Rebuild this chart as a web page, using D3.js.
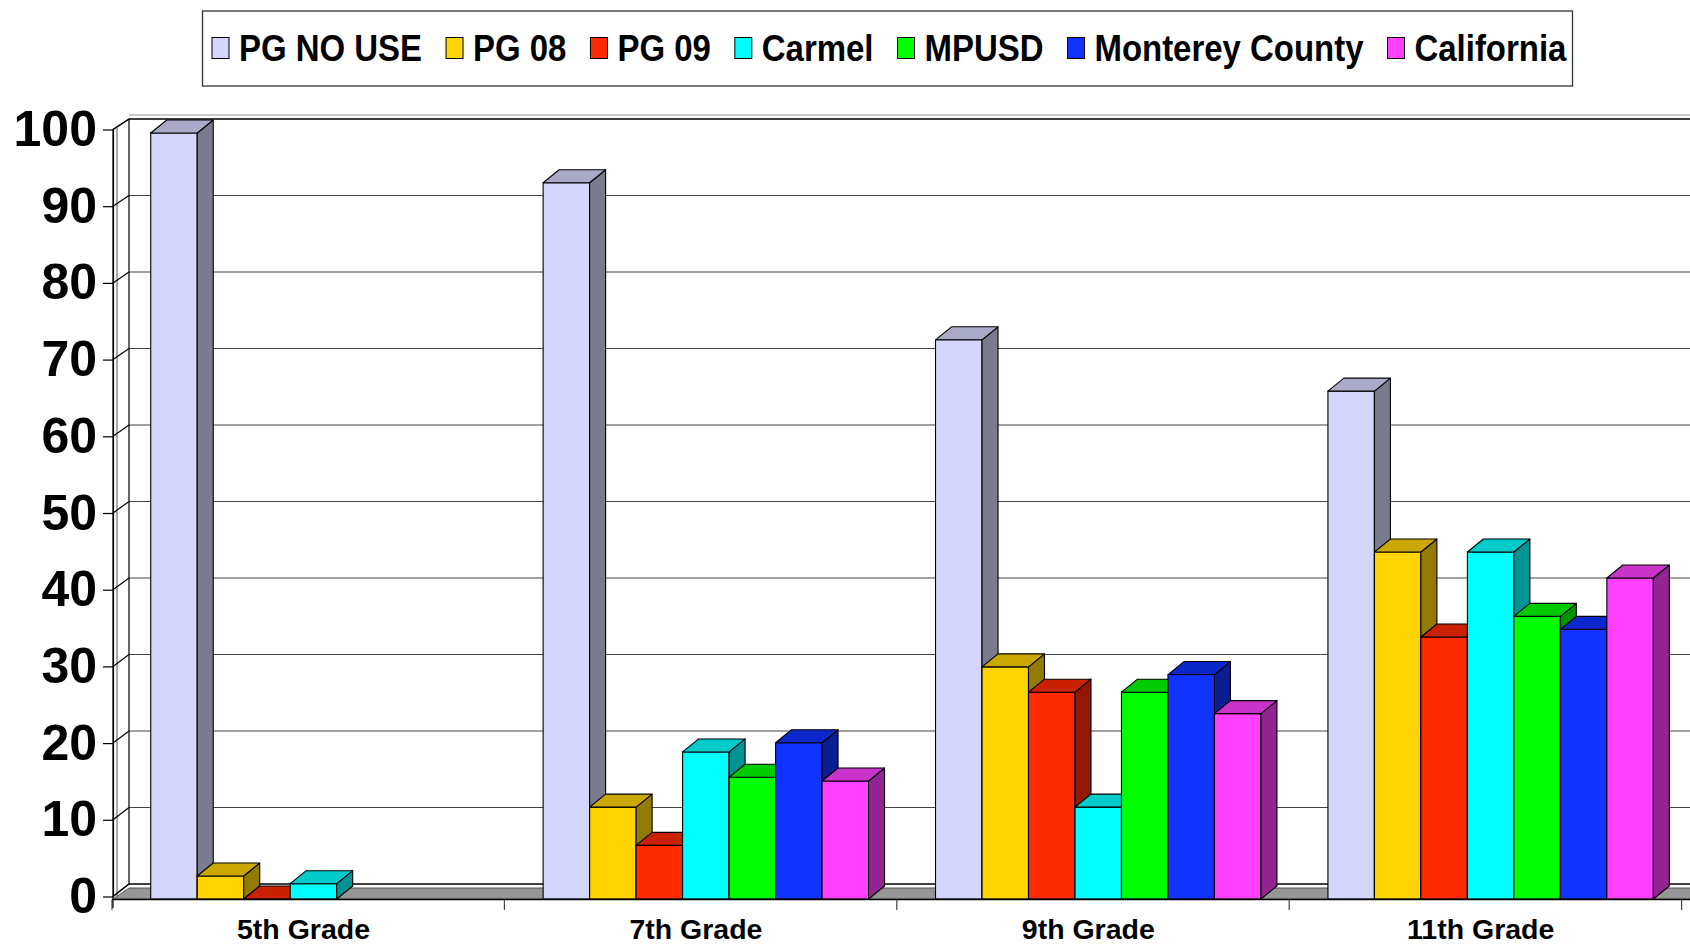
<!DOCTYPE html>
<html>
<head>
<meta charset="utf-8">
<script src="https://cdn.jsdelivr.net/npm/d3@7"></script>
<style>
    body { margin: 0; background: #fff; }
    svg { display: block; font-family: "Liberation Sans", Arial, sans-serif; }
</style>
</head>
<body>
<svg class="chart"></svg>
<script>

var categories = ["5th Grade", "7th Grade", "9th Grade", "11th Grade"];
var seriesNames = ["PG NO USE", "PG 08", "PG 09", "Carmel", "MPUSD", "Monterey County", "California"];

// percent, one value per grade (null = no bar)
var pgNoUse        = [100, 93.5, 73,   66.3];
var pg08           = [3,   12,   30.3, 45.3];
var pg09           = [0,   7,    27,   34.2];
var carmel         = [2,   19.2, 12,   45.3];
var mpusd          = [null, 15.9, 27,  36.9];
var montereyCounty = [null, 20.4, 29.3, 35.2];
var california     = [null, 15.4, 24.2, 41.9];

var yTicks = [0, 10, 20, 30, 40, 50, 60, 70, 80, 90, 100];

var seriesValues = [pgNoUse, pg08, pg09, carmel, mpusd, montereyCounty, california];
var seriesColors = ["#d5d6fb", "#ffd400", "#ff2a00", "#00ffff", "#00ff00", "#1133ff", "#ff40ff"];

var width = 1690, height = 945;

var svg = d3.select(".chart")
    .attr("width", width)
    .attr("height", height);

// 3d box layout
var backLeft = 129, frontLeft = 113, rightEdge = 1700;
var floorBack = 888, floorFront = 899;
var barDx = 16, barDy = 13;

var yBack = d3.scaleLinear().domain([0, 100]).range([884, 119]);
var yFront = d3.scaleLinear().domain([0, 100]).range([896.5, 129.5]);
var yBar = d3.scaleLinear().domain([0, 100]).range([899, 133]);

var x = d3.scaleBand().domain(categories).range([112, 1681.6]);
var xSeries = d3.scaleBand().domain(seriesNames)
    .range([x.bandwidth() * 0.0987, x.bandwidth() * 0.928]);

var walls = svg.append("g");

// back wall
walls.append("rect")
    .attr("x", backLeft).attr("y", yBack(100))
    .attr("width", rightEdge - backLeft).attr("height", yBack(0) - yBack(100))
    .attr("fill", "#fff");

walls.append("line")
    .attr("x1", backLeft).attr("x2", rightEdge)
    .attr("y1", yBack(100) - 4).attr("y2", yBack(100) - 4)
    .attr("stroke", "#999").attr("stroke-width", 1.2);

walls.selectAll(".grid")
    .data(yTicks)
    .enter().append("line")
    .attr("class", "grid")
    .attr("x1", backLeft).attr("x2", rightEdge)
    .attr("y1", function(d) { return yBack(d); })
    .attr("y2", function(d) { return yBack(d); })
    .attr("stroke", function(d) { return d === 0 || d === 100 ? "#000" : "#444"; })
    .attr("stroke-width", function(d) { return d === 0 || d === 100 ? 1.6 : 1.2; });

// left side wall
walls.append("polygon")
    .attr("points", [
        [frontLeft, yFront(100)], [backLeft, yBack(100)],
        [backLeft, yBack(0)], [frontLeft, yFront(0)]
    ].join(" "))
    .attr("fill", "#fff").attr("stroke", "#000").attr("stroke-width", 1.2);

walls.append("line")
    .attr("x1", frontLeft + 4).attr("x2", frontLeft + 4)
    .attr("y1", yFront(100) - 2).attr("y2", floorFront)
    .attr("stroke", "#555").attr("stroke-width", 1);

walls.selectAll(".side-grid")
    .data(yTicks)
    .enter().append("line")
    .attr("class", "side-grid")
    .attr("x1", frontLeft).attr("x2", backLeft)
    .attr("y1", function(d) { return yFront(d); })
    .attr("y2", function(d) { return yBack(d); })
    .attr("stroke", "#000").attr("stroke-width", 1.2);

// floor
walls.append("polygon")
    .attr("points", [
        [backLeft, floorBack], [rightEdge, floorBack],
        [rightEdge, floorFront], [frontLeft, floorFront]
    ].join(" "))
    .attr("fill", "#969696").attr("stroke", "#555").attr("stroke-width", 1);

// bars
var bars = [];
categories.forEach(function(c, ci) {
    seriesNames.forEach(function(s, si) {
        var v = seriesValues[si][ci];
        if (v === null) return;
        bars.push({ category: c, series: s, value: v, color: seriesColors[si] });
    });
});

var barGroup = svg.append("g")
    .selectAll(".bar")
    .data(bars)
    .enter().append("g")
    .attr("class", "bar");

function barGeom(d) {
    var x0 = x(d.category) + xSeries(d.series);
    var x1 = x0 + xSeries.bandwidth();
    var y0 = yBar(0), y1 = yBar(d.value);
    return { x0: x0, x1: x1, y0: y0, y1: y1 };
}

barGroup.append("rect")
    .attr("x", function(d) { return barGeom(d).x0; })
    .attr("y", function(d) { return barGeom(d).y1; })
    .attr("width", xSeries.bandwidth())
    .attr("height", function(d) { var g = barGeom(d); return g.y0 - g.y1; })
    .attr("fill", function(d) { return d.color; })
    .attr("stroke", "#000").attr("stroke-width", 1.1);

barGroup.append("polygon")
    .attr("points", function(d) {
        var g = barGeom(d);
        return [[g.x1, g.y0], [g.x1, g.y1], [g.x1 + barDx, g.y1 - barDy], [g.x1 + barDx, g.y0 - barDy]].join(" ");
    })
    .attr("fill", function(d) { return d3.rgb(d.color).darker(1.55); })
    .attr("stroke", "#000").attr("stroke-width", 1.1).attr("stroke-linejoin", "round");

barGroup.append("polygon")
    .attr("points", function(d) {
        var g = barGeom(d);
        return [[g.x0, g.y1], [g.x1, g.y1], [g.x1 + barDx, g.y1 - barDy], [g.x0 + barDx, g.y1 - barDy]].join(" ");
    })
    .attr("fill", function(d) { return d3.rgb(d.color).darker(0.65); })
    .attr("stroke", "#000").attr("stroke-width", 1.1).attr("stroke-linejoin", "round");

// x axis line and category boundary ticks
svg.append("line")
    .attr("x1", frontLeft - 1).attr("x2", rightEdge)
    .attr("y1", 899.5).attr("y2", 899.5)
    .attr("stroke", "#000").attr("stroke-width", 1.5);

var boundaries = categories.map(function(c) { return x(c); }).concat([x.range()[1]]);
svg.selectAll(".xtick")
    .data(boundaries)
    .enter().append("line")
    .attr("class", "xtick")
    .attr("x1", function(d) { return d; }).attr("x2", function(d) { return d; })
    .attr("y1", 899.5).attr("y2", 910)
    .attr("stroke", "#444").attr("stroke-width", 1.2);

svg.append("g")
    .attr("class", "axis axis--x")
    .attr("transform", "translate(-4.7,899.5)")
    .call(d3.axisBottom(x).tickSize(0).tickPadding(19))
    .call(function(g) { g.select(".domain").remove(); })
    .selectAll("text")
    .attr("fill", "#000")
    .style("font-size", "28.5px")
    .style("font-weight", "bold")
    .style("font-family", "'Liberation Sans', Arial, sans-serif");

// y axis on the front edge
svg.append("g")
    .attr("class", "axis axis--y")
    .attr("transform", "translate(" + frontLeft + ",0)")
    .call(d3.axisLeft(yFront).tickValues(yTicks).tickSize(10).tickSizeOuter(0).tickPadding(6).tickFormat(d3.format("d")))
    .call(function(g) {
        g.select(".domain").attr("stroke", "#000").attr("stroke-width", 1.2);
        g.selectAll(".tick line").attr("stroke", "#000").attr("stroke-width", 1.2);
    })
    .selectAll("text")
    .attr("fill", "#000")
    .style("font-size", "50px")
    .style("font-weight", "bold")
    .style("font-family", "'Liberation Sans', Arial, sans-serif");

svg.append("line")
    .attr("x1", frontLeft).attr("x2", frontLeft)
    .attr("y1", yFront(0)).attr("y2", 908)
    .attr("stroke", "#000").attr("stroke-width", 1.2);

// legend
var legend = svg.append("g").attr("class", "legend");

legend.append("rect")
    .attr("x", 202.5).attr("y", 11)
    .attr("width", 1370).attr("height", 75)
    .attr("fill", "#fff").attr("stroke", "#333").attr("stroke-width", 1.3);

// legend text is a little condensed in the original
var lx = 212;
seriesNames.forEach(function(name, i) {
    legend.append("rect")
        .attr("x", lx).attr("y", 37.5)
        .attr("width", 17).attr("height", 21)
        .attr("fill", seriesColors[i])
        .attr("stroke", "#000").attr("stroke-width", 1);
    var t = legend.append("text")
        .attr("x", lx + 27).attr("y", 60.5)
        .style("font-size", "36px")
        .style("font-weight", "bold")
        .attr("fill", "#000")
        .text(name);
    var len = t.node().getComputedTextLength() * 0.915;
    t.attr("textLength", len).attr("lengthAdjust", "spacingAndGlyphs");
    lx = lx + 27 + len + 24;
});

</script>
</body>
</html>
